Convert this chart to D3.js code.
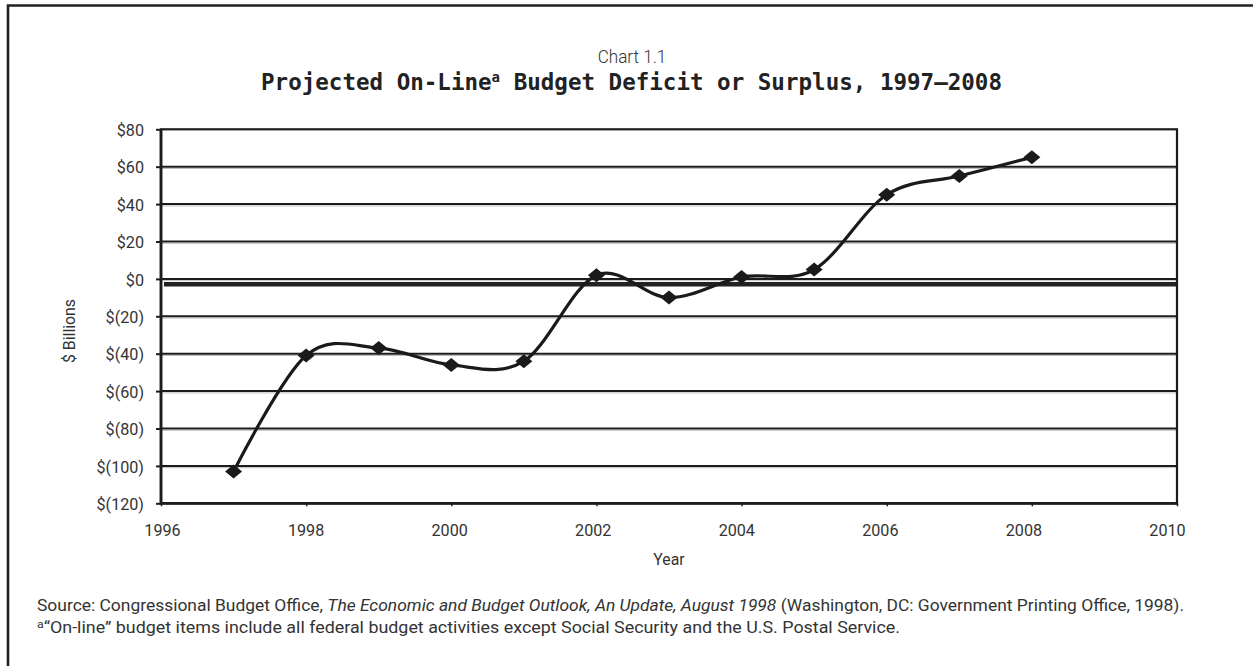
<!DOCTYPE html>
<html>
<head>
<meta charset="utf-8">
<script src="https://cdn.jsdelivr.net/npm/d3@7"></script>
<style>
  html, body { margin: 0; padding: 0; background: #fff; }
  svg { display: block; }
</style>
</head>
<body>
<svg id="chart" width="1253" height="666"></svg>
<script>
// Projected on-line budget balance, $ billions
const years   = [1997, 1998, 1999, 2000, 2001, 2002, 2003, 2004, 2005, 2006, 2007, 2008];
const balance = [-103, -41, -37, -46, -44, 2, -10, 1, 5, 45, 55, 65];

// Axis ticks and their labels
const xTicks = [1996, 1998, 2000, 2002, 2004, 2006, 2008, 2010];
const yTicks = [-120, -100, -80, -60, -40, -20, 0, 20, 40, 60, 80];
const yTickLabels = ["$(120)", "$(100)", "$(80)", "$(60)", "$(40)", "$(20)", "$0", "$20", "$40", "$60", "$80"];

const INK = "#1c1c1c";
const TEXT = "#333";
const BODY_FONT = "Roboto, 'Liberation Sans', sans-serif";

const svg = d3.select("#chart");
svg.append("rect").attr("width", 1253).attr("height", 666).attr("fill", "#fff");

// Page frame (top and left rules)
svg.append("path")
  .attr("d", "M8,666 V5.5 H1253")
  .attr("fill", "none").attr("stroke", "#222").attr("stroke-width", 2.6);

const plot = { left: 161, right: 1177, top: 129.3, bottom: 503.3 };

const x = d3.scaleLinear().domain([1996, 2010]).range([plot.left, plot.right]);
const y = d3.scaleLinear().domain([-120, 80]).range([plot.bottom, plot.top]);
// Year labels sit on a slightly tighter spread than the tick marks
const xLabel = d3.scaleLinear().domain([1996, 2010]).range([162, 1167]);

// Squeeze a text element to a fraction of its natural width, keeping its anchor point
function condense(sel, factor, anchor) {
  sel.each(function () {
    const t = d3.select(this);
    const ax = +t.attr("x");
    const w = this.getComputedTextLength() * factor;
    t.attr("textLength", w).attr("lengthAdjust", "spacingAndGlyphs")
     .attr("text-anchor", "start")
     .attr("x", anchor === "end" ? ax - w : anchor === "middle" ? ax - w / 2 : ax);
  });
}

// Horizontal gridlines
const grid = svg.append("g");
yTicks.filter(v => v > -120 && v < 80).forEach(v => {
  grid.append("line")
    .attr("x1", plot.left).attr("x2", plot.right)
    .attr("y1", y(v) + 1.8).attr("y2", y(v) + 1.8)
    .attr("stroke", "#bdbdbd").attr("stroke-width", 1);
  grid.append("line")
    .attr("x1", plot.left).attr("x2", plot.right)
    .attr("y1", y(v)).attr("y2", y(v))
    .attr("stroke", INK).attr("stroke-width", 2);
});

// Heavy zero baseline
svg.append("line")
  .attr("x1", plot.left + 3).attr("x2", plot.right)
  .attr("y1", y(0) + 5.3).attr("y2", y(0) + 5.3)
  .attr("stroke", "#222").attr("stroke-width", 4.6);

// Plot frame
svg.append("rect")
  .attr("x", plot.left).attr("y", plot.top)
  .attr("width", plot.right - plot.left).attr("height", plot.bottom - plot.top)
  .attr("fill", "none").attr("stroke", INK).attr("stroke-width", 2.2);
svg.append("path")
  .attr("d", `M${plot.left},${plot.top} V${plot.bottom} H${plot.right}`)
  .attr("fill", "none").attr("stroke", INK).attr("stroke-width", 2.8);

// Y axis
const yAxis = svg.append("g")
  .attr("transform", `translate(${plot.left},0)`)
  .call(d3.axisLeft(y).tickValues(yTicks)
    .tickFormat((d, i) => yTickLabels[i]).tickSize(5).tickPadding(12));
yAxis.select(".domain").remove();
yAxis.selectAll(".tick line").attr("stroke", INK).attr("stroke-width", 2);
yAxis.selectAll(".tick text")
  .attr("fill", TEXT).attr("font-family", BODY_FONT).attr("font-size", 17)
  .attr("dy", "0.36em");
yAxis.selectAll(".tick text").each(function () {
  d3.select(this).attr("x", -17);
});
condense(yAxis.selectAll(".tick text"), 0.95, "end");

// X axis: tick marks
const xAxis = svg.append("g")
  .attr("transform", `translate(0,${plot.bottom})`)
  .call(d3.axisBottom(x).tickValues(xTicks).tickFormat("").tickSize(3));
xAxis.select(".domain").remove();
xAxis.selectAll(".tick line").attr("stroke", INK).attr("stroke-width", 1.5);

// X axis: year labels
const xLabels = svg.append("g")
  .attr("transform", `translate(0,${plot.bottom})`)
  .call(d3.axisBottom(xLabel).tickValues(xTicks).tickFormat(d3.format("d")).tickSize(0).tickPadding(21));
xLabels.select(".domain").remove();
xLabels.selectAll(".tick line").remove();
xLabels.selectAll(".tick text")
  .attr("fill", TEXT).attr("font-family", BODY_FONT).attr("font-size", 17)
  .attr("dy", "0.71em").attr("x", 0);
condense(xLabels.selectAll(".tick text"), 0.95, "middle");

// Axis titles
const yTitle = svg.append("text")
  .attr("transform", "translate(75,331) rotate(-90)")
  .attr("x", 0).attr("y", 0)
  .attr("fill", TEXT).attr("font-family", BODY_FONT).attr("font-size", 17)
  .text("$ Billions");
condense(yTitle, 0.93, "middle");

const xTitle = svg.append("text")
  .attr("x", (plot.left + plot.right) / 2).attr("y", 565)
  .attr("fill", TEXT).attr("font-family", BODY_FONT).attr("font-size", 17)
  .text("Year");
condense(xTitle, 0.93, "middle");

// Data line (smoothed) and diamond markers
const line = d3.line()
  .x((d, i) => x(years[i]))
  .y(d => y(d))
  .curve(d3.curveCardinal.tension(0));

svg.append("path")
  .datum(balance)
  .attr("d", line)
  .attr("fill", "none").attr("stroke", "#1a1a1a").attr("stroke-width", 3.2)
  .attr("stroke-linejoin", "round");

svg.append("g").selectAll("path")
  .data(balance)
  .join("path")
  .attr("transform", (d, i) => `translate(${x(years[i])},${y(d)})`)
  .attr("d", "M0,-7 L8.5,0 L0,7 L-8.5,0 Z")
  .attr("fill", "#1a1a1a");

// Titles
const chartNo = svg.append("text")
  .attr("x", 632).attr("y", 63)
  .attr("fill", TEXT).attr("font-family", BODY_FONT).attr("font-weight", 300).attr("font-size", 19)
  .text("Chart 1.1");
condense(chartNo, 0.9, "middle");

const title = svg.append("text")
  .attr("x", 631.5).attr("y", 90)
  .attr("fill", "#222").attr("font-family", "'DejaVu Sans Mono', monospace")
  .attr("font-weight", "bold").attr("font-size", 22.5);
title.append("tspan").text("Projected On-Line");
title.append("tspan").attr("font-size", 14).attr("dy", -8).text("a");
title.append("tspan").attr("dy", 8).text(" Budget Deficit or Surplus, 1997\u20132008");
condense(title, 0.95, "middle");
title.attr("textLength", 741).attr("x", 631.5 - 741 / 2);

// Source and footnote
const source = svg.append("text")
  .attr("x", 37).attr("y", 611)
  .attr("fill", TEXT).attr("font-family", BODY_FONT).attr("font-size", 16);
source.append("tspan").text("Source: Congressional Budget Office, ");
source.append("tspan").attr("font-style", "italic")
  .text("The Economic and Budget Outlook, An Update, August 1998");
source.append("tspan").text(" (Washington, DC: Government Printing Office, 1998).");
source.attr("textLength", 1147).attr("lengthAdjust", "spacingAndGlyphs");

const note = svg.append("text")
  .attr("x", 37).attr("y", 633)
  .attr("fill", TEXT).attr("font-family", BODY_FONT).attr("font-size", 16);
note.append("tspan").attr("font-size", 11).attr("dy", -5).text("a");
note.append("tspan").attr("dy", 5)
  .text("\u201COn-line\u201D budget items include all federal budget activities except Social Security and the U.S. Postal Service.");
note.attr("textLength", 863).attr("lengthAdjust", "spacingAndGlyphs");
</script>
</body>
</html>
